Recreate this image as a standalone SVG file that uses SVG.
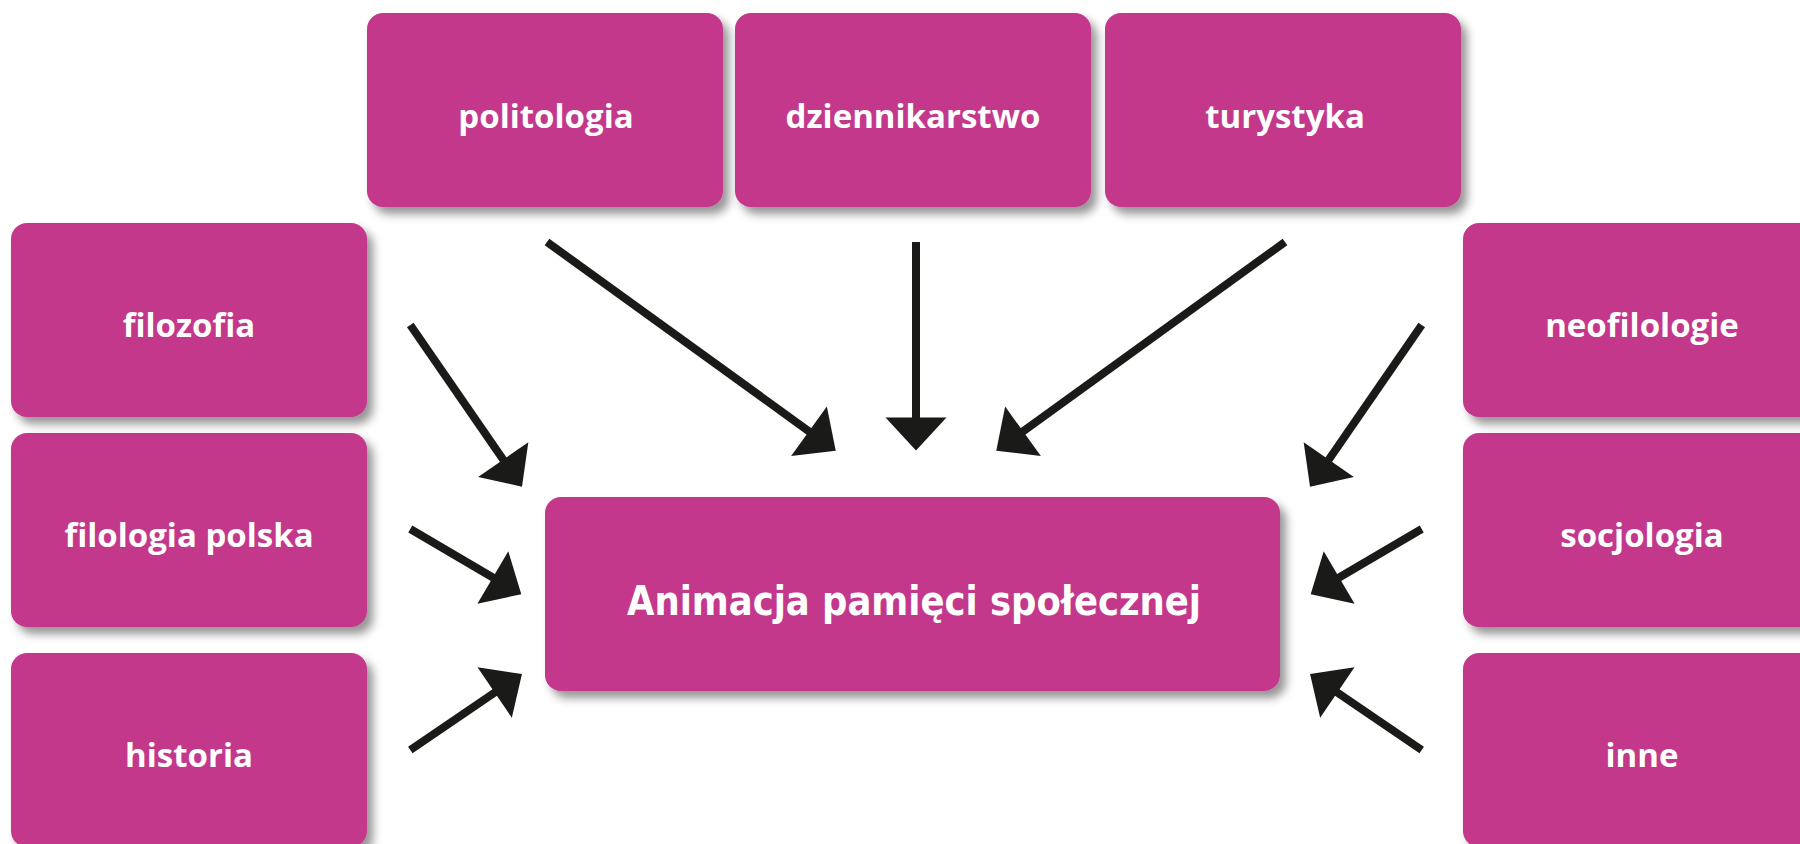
<svg xmlns="http://www.w3.org/2000/svg" width="1800" height="844" viewBox="0 0 1800 844">
  <defs>
    <filter id="shadow" x="-10%" y="-10%" width="130%" height="140%">
      <feDropShadow dx="6" dy="7" stdDeviation="5" flood-color="#000" flood-opacity="0.42"/>
    </filter>
    <marker id="head" markerUnits="userSpaceOnUse" markerWidth="80" markerHeight="80" refX="0" refY="0" orient="auto" overflow="visible">
      <path d="M-1,-30.5 L32,0 L-1,30.5 Z" fill="#1a1a18"/>
    </marker>
  </defs>
  <style>
    .box { fill: #c3398b; filter: url(#shadow); }
    .lbl { fill: #ffffff; font-family: "Open Sans", "Noto Sans", sans-serif; font-weight: 700; font-size: 33px; text-anchor: middle; }
    .main { fill: #ffffff; font-family: "DejaVu Sans", sans-serif; font-stretch: condensed; font-weight: 700; font-size: 40px; text-anchor: middle; }
    .arr { stroke: #1a1a18; stroke-width: 8; fill: none; marker-end: url(#head); }
  </style>
  <rect width="1800" height="844" fill="#ffffff"/>

  <g id="politologia">
    <rect class="box" x="367" y="13" width="356" height="194" rx="16"/>
    <text class="lbl" x="546" y="128">politologia</text>
  </g>
  <g id="dziennikarstwo">
    <rect class="box" x="735" y="13" width="356" height="194" rx="16"/>
    <text class="lbl" x="913" y="128">dziennikarstwo</text>
  </g>
  <g id="turystyka">
    <rect class="box" x="1105" y="13" width="356" height="194" rx="16"/>
    <text class="lbl" x="1285" y="128">turystyka</text>
  </g>

  <g id="filozofia">
    <rect class="box" x="11" y="223" width="356" height="194" rx="16"/>
    <text class="lbl" x="189" y="337">filozofia</text>
  </g>
  <g id="filologia-polska">
    <rect class="box" x="11" y="433" width="356" height="194" rx="16"/>
    <text class="lbl" x="189" y="547">filologia polska</text>
  </g>
  <g id="historia">
    <rect class="box" x="11" y="653" width="356" height="194" rx="16"/>
    <text class="lbl" x="189" y="767">historia</text>
  </g>

  <g id="neofilologie">
    <rect class="box" x="1463" y="223" width="360" height="194" rx="16"/>
    <text class="lbl" x="1642" y="337">neofilologie</text>
  </g>
  <g id="socjologia">
    <rect class="box" x="1463" y="433" width="360" height="194" rx="16"/>
    <text class="lbl" x="1642" y="547">socjologia</text>
  </g>
  <g id="inne">
    <rect class="box" x="1463" y="653" width="360" height="194" rx="16"/>
    <text class="lbl" x="1642" y="767">inne</text>
  </g>

  <g id="center">
    <rect class="box" x="545" y="497" width="735" height="194" rx="16"/>
    <text class="main" x="914" y="615" textLength="574" lengthAdjust="spacingAndGlyphs">Animacja pamięci społecznej</text>
  </g>

  <g id="connectors">
    <line class="arr" x1="547" y1="242" x2="809.8" y2="431.9"/>
    <line class="arr" x1="916" y1="242" x2="916" y2="418.5"/>
    <line class="arr" x1="1285" y1="242" x2="1022.2" y2="431.9"/>
    <line class="arr" x1="410.3" y1="325" x2="503.8" y2="460.4"/>
    <line class="arr" x1="1421.7" y1="325" x2="1328.2" y2="460.4"/>
    <line class="arr" x1="410.3" y1="529" x2="493.7" y2="578"/>
    <line class="arr" x1="1421.7" y1="529" x2="1338.3" y2="578"/>
    <line class="arr" x1="410.3" y1="750" x2="495.5" y2="692"/>
    <line class="arr" x1="1421.7" y1="750" x2="1336.5" y2="692"/>
  </g>
</svg>
